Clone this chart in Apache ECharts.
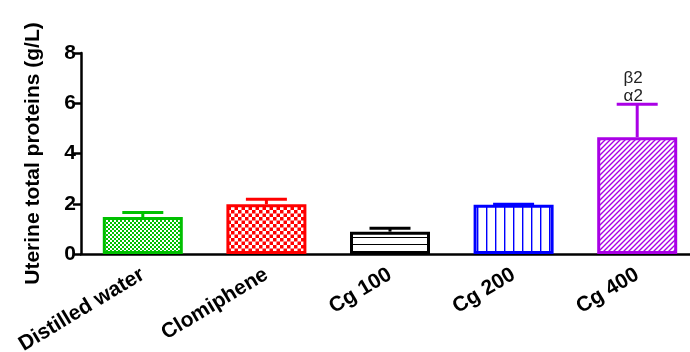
<!DOCTYPE html>
<html>
<head>
<meta charset="utf-8">
<script src="https://cdn.jsdelivr.net/npm/echarts@6/dist/echarts.min.js"></script>
<style>html,body{margin:0;padding:0;background:#fff}#c{width:690px;height:352px}</style>
</head>
<body>
<div id="c"></div>
<script>
var categories = ['Distilled water', 'Clomiphene', 'Cg 100', 'Cg 200', 'Cg 400'];
var means = [1.47, 1.98, 0.89, 1.96, 4.65];
var errors = [0.18, 0.20, 0.13, 0.02, 1.31];
var annotations = ['', '', '', '', 'β2\nα2'];
var colors = ['#00c000', '#ff0000', '#000000', '#0000ff', '#aa00e6'];
var yTicks = { min: 0, max: 8, interval: 2 };
var yName = 'Uterine total proteins (g/L)';

function makePattern(kind, color) {
  var c = document.createElement('canvas');
  var ctx;
  if (kind === 'fineCheck') {
    c.width = 4; c.height = 4; ctx = c.getContext('2d');
    ctx.fillStyle = '#fff'; ctx.fillRect(0,0,4,4);
    ctx.fillStyle = color; ctx.fillRect(0,0,2,2); ctx.fillRect(2,2,2,2);
  } else if (kind === 'check') {
    c.width = 7; c.height = 7; ctx = c.getContext('2d');
    ctx.fillStyle = '#fff'; ctx.fillRect(0,0,7,7);
    ctx.fillStyle = color; ctx.fillRect(0,0,3.5,3.5); ctx.fillRect(3.5,3.5,3.5,3.5);
  } else if (kind === 'hlines') {
    c.width = 4; c.height = 7; ctx = c.getContext('2d');
    ctx.fillStyle = '#fff'; ctx.fillRect(0,0,4,7);
    ctx.fillStyle = color; ctx.fillRect(0,6,4,1.2);
  } else if (kind === 'vlines') {
    c.width = 9.4; c.height = 4; ctx = c.getContext('2d');
    ctx.fillStyle = '#fff'; ctx.fillRect(0,0,10,4);
    ctx.fillStyle = color; ctx.fillRect(0,0,1.4,4);
  } else {
    c.width = 5; c.height = 5; ctx = c.getContext('2d');
    ctx.fillStyle = '#fff'; ctx.fillRect(0,0,5,5);
    ctx.strokeStyle = color; ctx.lineWidth = 1.4;
    ctx.beginPath();
    ctx.moveTo(-1, 6); ctx.lineTo(6, -1);
    ctx.moveTo(-1, 1); ctx.lineTo(1, -1);
    ctx.moveTo(4, 6); ctx.lineTo(6, 4);
    ctx.stroke();
  }
  return { image: c, repeat: 'repeat' };
}
var kinds = ['fineCheck', 'check', 'hlines', 'vlines', 'diag'];

var barData = means.map(function (v, i) {
  return {
    value: v,
    itemStyle: { color: makePattern(kinds[i], colors[i]), borderColor: colors[i], borderWidth: 3 }
  };
});
var errData = means.map(function (v, i) { return [i, v, v + errors[i], annotations[i]]; });

var FONT = '"Liberation Sans", Arial, sans-serif';
var chart = echarts.init(document.getElementById('c'), null, { renderer: 'canvas' });
chart.setOption({
  animation: false,
  backgroundColor: '#fff',
  grid: { left: 81, right: -9, top: 53, bottom: 98, containLabel: false, outerBoundsMode: 'none' },
  xAxis: {
    type: 'category',
    data: categories,
    axisLine: { lineStyle: { color: '#000', width: 2.5 } },
    axisTick: { alignWithLabel: true, length: 7, lineStyle: { color: '#000', width: 2.5 } },
    axisLabel: { rotate: 31, margin: 19, fontFamily: FONT, fontWeight: 'bold', fontSize: 21, color: '#000' }
  },
  yAxis: {
    type: 'value',
    min: yTicks.min, max: yTicks.max, interval: yTicks.interval,
    name: yName, nameLocation: 'middle', nameRotate: 90, nameGap: 37,
    nameTextStyle: { fontFamily: FONT, fontWeight: 'bold', fontSize: 21, color: '#000' },
    splitLine: { show: false },
    axisLine: { show: true, lineStyle: { color: '#000', width: 2.5 } },
    axisTick: { show: true, length: 8, lineStyle: { color: '#000', width: 2.5 } },
    axisLabel: { margin: 5, fontFamily: FONT, fontWeight: 'bold', fontSize: 21, color: '#000' }
  },
  series: [
    {
      type: 'bar', data: barData, barWidth: 80, z: 2
    },
    {
      type: 'custom', z: 3,
      data: errData,
      renderItem: function (params, api) {
        var i = api.value(0);
        var lo = api.coord([i, api.value(1)]);
        var hi = api.coord([i, api.value(2)]);
        var col = colors[params.dataIndex];
        var half = 20.5;
        var children = [
          { type: 'line', shape: { x1: lo[0], y1: lo[1], x2: hi[0], y2: hi[1] }, style: { stroke: col, lineWidth: 3 } },
          { type: 'line', shape: { x1: hi[0] - half, y1: hi[1], x2: hi[0] + half, y2: hi[1] }, style: { stroke: col, lineWidth: 3 } }
        ];
        var ann = annotations[params.dataIndex];
        if (ann) {
          children.push({
            type: 'text',
            style: { text: ann, x: hi[0] - 4, y: hi[1] + 1, align: 'center', verticalAlign: 'bottom',
              fontFamily: FONT, fontSize: 17, lineHeight: 18, fill: '#222' }
          });
        }
        return { type: 'group', children: children };
      }
    }
  ]
});
</script>
</body>
</html>
